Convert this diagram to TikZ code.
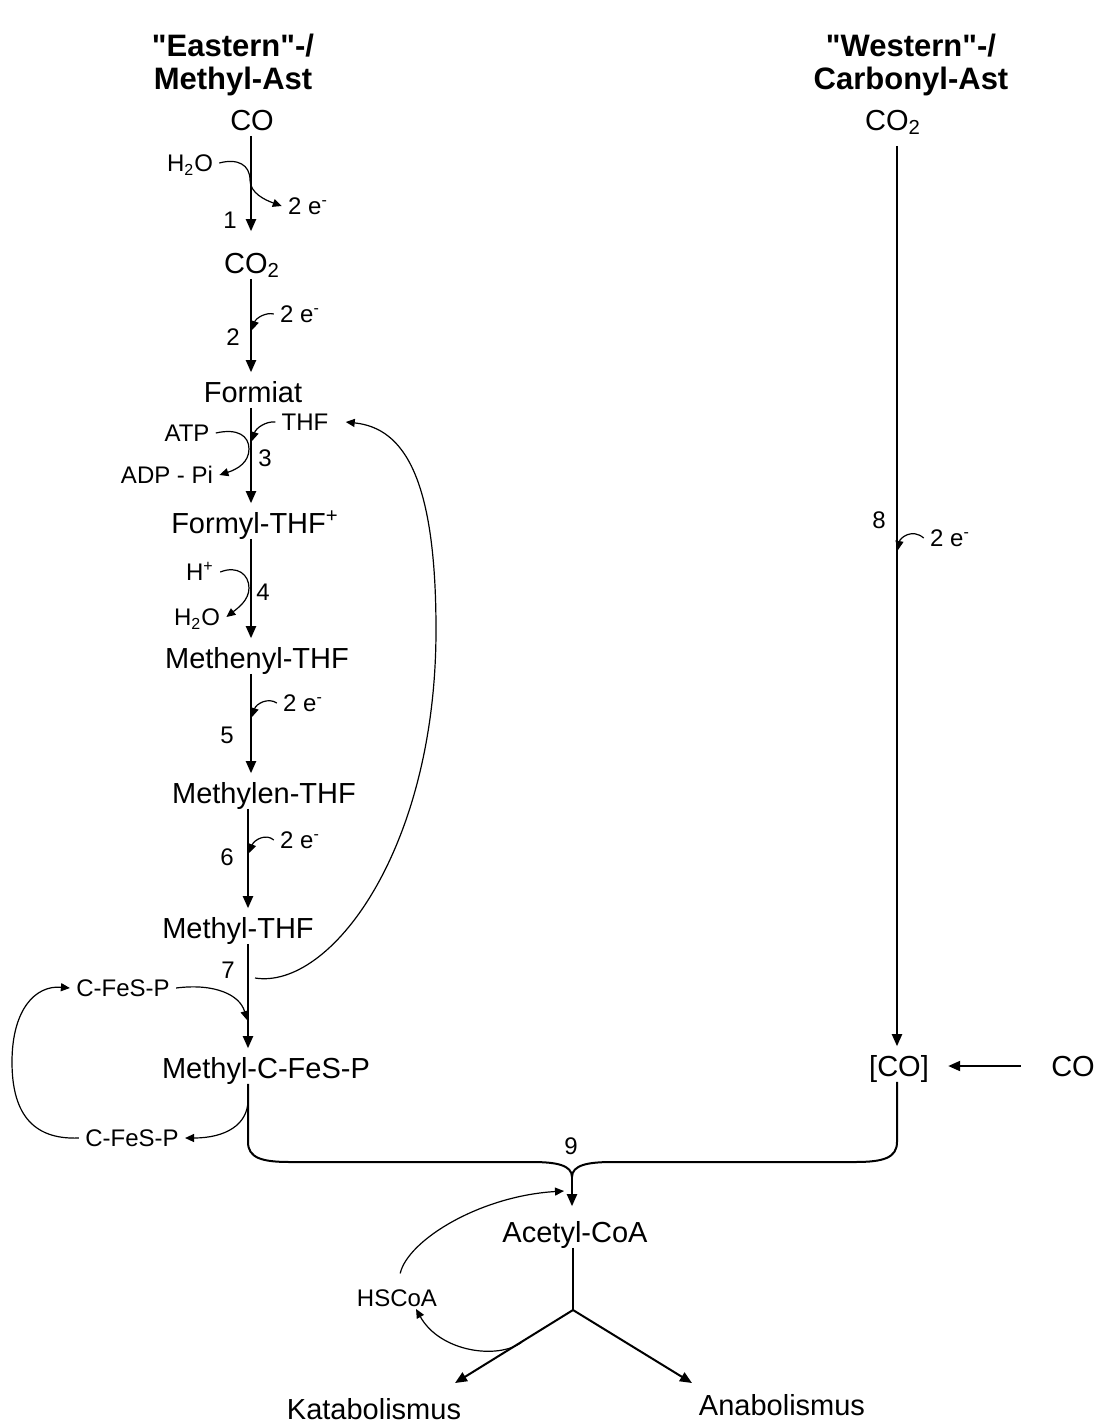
\documentclass[tikz,border=0pt]{standalone}
\usepackage{fontspec}
\setmainfont{Liberation Sans}
\usepackage{tikz}
\usetikzlibrary{arrows.meta}
\tikzset{
  ar/.style={-{Triangle[length=6pt,width=5pt]},line width=1pt,shorten >=2pt},
  sar/.style={-{Triangle[length=4.5pt,width=4pt]},line width=0.6pt},
  met/.style={font=\fontsize{14.5}{17}\selectfont,text height=10.4pt,text depth=0pt,inner xsep=2pt,inner ysep=2.5pt},
  lbl/.style={font=\fontsize{12}{14}\selectfont,text height=8.6pt,text depth=0pt,inner xsep=3pt,inner ysep=1pt},
  ttl/.style={font=\fontsize{15.5}{16.5}\selectfont\bfseries,align=center,inner sep=0pt}
}
\begin{document}
\begin{tikzpicture}[x=0.5pt,y=-0.5pt]
\useasboundingbox (0,0) rectangle (1100,1425);
\node[ttl,anchor=north] (eastT) at (233,34) {\textquotedbl Eastern\textquotedbl-/\\Methyl-Ast};
\node[ttl,anchor=north] (westT) at (911,34) {\textquotedbl Western\textquotedbl-/\\Carbonyl-Ast};
\coordinate (cl) at (251,0);
\coordinate (cl2) at (248,0);
\coordinate (colR) at (897,0);
\node[met] (co) at (252,120) {CO};
\node[met] (co2) at (252,263) {CO\textsubscript{2}};
\node[met] (form) at (253,392) {Formiat};
\node[met] (formyl) at (255,523) {Formyl-THF\textsuperscript{+}};
\node[met] (meny) at (257,658) {Methenyl-THF};
\node[met] (mlen) at (264,793) {Methylen-THF};
\node[met] (mthf) at (238,928) {Methyl-THF};
\node[met] (mcfesp) at (266,1068) {Methyl-C-FeS-P};
\node[met] (co2r) at (893,120) {CO\textsubscript{2}};
\node[met] (bco) at (899,1066) {[CO]};
\node[met] (cor) at (1073,1066) {CO};
\node[met] (acoa) at (575,1232) {Acetyl-CoA};
\node[met] (kata) at (374,1409) {Katabolismus};
\node[met] (ana) at (782,1405) {Anabolismus};
\node[lbl] (h2oa) at (190,163) {H\textsubscript{2}O};
\node[lbl] (ea) at (308,206) {2 e\textsuperscript{-}};
\node[lbl] (n1) at (230,220) {1};
\node[lbl] (eb) at (300,314) {2 e\textsuperscript{-}};
\node[lbl] (n2) at (233,337) {2};
\node[lbl] (thf) at (305,422) {THF};
\node[lbl] (atp) at (187,433) {ATP};
\node[lbl] (adp) at (167,475) {ADP - Pi};
\node[lbl] (n3) at (265,458) {3};
\node[lbl] (hp) at (200,572) {H\textsuperscript{+}};
\node[lbl] (h2ob) at (197,617) {H\textsubscript{2}O};
\node[lbl] (n4) at (263,592) {4};
\node[lbl] (ec) at (303,703) {2 e\textsuperscript{-}};
\node[lbl] (n5) at (227,735) {5};
\node[lbl] (ed) at (300,840) {2 e\textsuperscript{-}};
\node[lbl] (n6) at (227,857) {6};
\node[lbl] (n7) at (228,970) {7};
\node[lbl] (cft) at (123,988) {C-FeS-P};
\node[lbl] (cfb) at (132,1138) {C-FeS-P};
\node[lbl] (n8) at (879,520) {8};
\node[lbl] (ee) at (950,538) {2 e\textsuperscript{-}};
\node[lbl] (n9) at (571,1146) {9};
\node[lbl] (hs) at (397,1298) {HSCoA};
\coordinate (r1) at (250,180);
\coordinate (r2) at (252,330);
\coordinate (r3) at (252,441);
\coordinate (r3b) at (249,449);
\coordinate (r4) at (249,588);
\coordinate (r5) at (252,717);
\coordinate (r6) at (249,853);
\coordinate (r7) at (247,1020);
\coordinate (r7b) at (255,978);
\coordinate (r8) at (898,550);
\coordinate (r9) at (564,1191);
\coordinate (stemL) at (248,1100);
\coordinate (cusp) at (572,1177);
\coordinate (br) at (573,1310);
\coordinate (kb) at (522,1342);
\coordinate (kt) at (455,1383);
\coordinate (at) at (692,1383);
\draw[ar,shorten >=8pt] (co.south -| cl) -- (co2.north -| cl);
\draw[ar] (co2.south -| cl) -- (form.north -| cl);
\draw[ar] (form.south -| cl) -- (formyl.north -| cl);
\draw[ar] (formyl.south -| cl) -- (meny.north -| cl);
\draw[ar] (meny.south -| cl) -- (mlen.north -| cl);
\draw[ar] (mlen.south -| cl2) -- (mthf.north -| cl2);
\draw[ar] (mthf.south -| cl2) -- (mcfesp.north -| cl2);
\draw[ar,shorten <=5pt] (co2r.south -| colR) -- (bco.north -| colR);
\draw[ar,shorten >=7.5pt,shorten <=13pt] (cor.west) -- (bco.east);
\draw[sar] (h2oa.east) .. controls (238,158) and (250,165) .. (r1) .. controls (250,193) and (265,200) .. (ea.west);
\draw[sar] (eb.west) .. controls (266,312) and (256,318) .. (r2);
\draw[sar] (thf.west) .. controls (266,421) and (256,428) .. (r3);
\draw[sar] (atp.east) .. controls (238,428) and (249,436) .. (r3b) .. controls (249,462) and (238,469) .. (adp.east);
\draw[sar] (hp.east) .. controls (238,565) and (249,575) .. (r4) .. controls (249,600) and (238,608) .. (h2ob.east);
\draw[sar] (ec.west) .. controls (268,697) and (256,704) .. (r5);
\draw[sar] (ed.west) .. controls (266,833) and (254,840) .. (r6);
\draw[sar] (cft.east) .. controls (215,983) and (240,995) .. (r7);
\draw[sar] (r7b) .. controls (330,990) and (436,850) .. (436,630) .. controls (436,480) and (405,428) .. ([xshift=5.5pt]thf.east);
\draw[sar] (stemL) .. controls (248,1125) and (225,1138) .. (cfb.east);
\draw[sar] (cfb.west) .. controls (30,1140) and (12,1110) .. (12,1062) .. controls (12,1010) and (35,985) .. (cft.west);
\draw[sar] (ee.west) .. controls (912,528) and (900,538) .. (r8);
\draw[line width=1pt] (mcfesp.south -| stemL) -- (248,1142) .. controls (248,1158) and (262,1162) .. (290,1162) -- (532,1162) .. controls (556,1162) and (572,1165) .. (cusp) .. controls (572,1165) and (588,1162) .. (612,1162) -- (855,1162) .. controls (883,1162) and (897,1158) .. (897,1142) -- (bco.south -| colR);
\draw[ar,shorten >=5pt] (cusp) -- (acoa.north -| cusp);
\draw[line width=1pt] (acoa.south -| br) -- (br);
\draw[ar,shorten >=0pt] (br) -- (kt);
\draw[ar,shorten >=0pt] (br) -- (at);
\draw[sar,shorten <=7pt] (hs.north) .. controls (408,1240) and (480,1196) .. (r9);
\draw[sar] (kb) .. controls (498,1360) and (440,1352) .. (hs.-30);
\end{tikzpicture}
\end{document}
